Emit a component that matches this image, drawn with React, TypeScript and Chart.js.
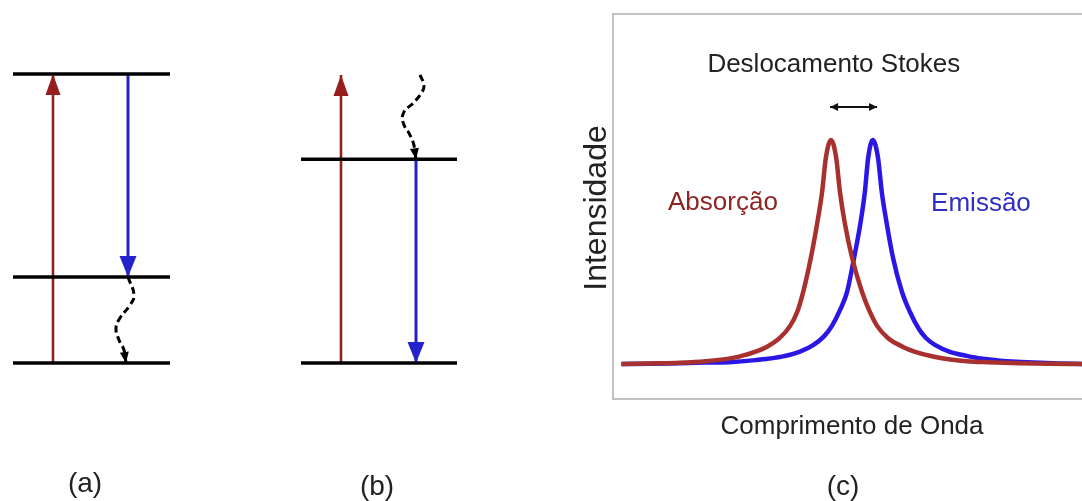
import { useEffect, useRef } from "react";
import { Chart, registerables } from "chart.js";

Chart.register(...registerables);

// ---------- Energy-level diagrams (a) and (b) ----------
// energies (arbitrary units) of the levels
const levelsA = [0, 1, 3.36];
const levelsB = [0, 2.37];
const excitationTopB = 3.35;
// non-radiative relaxation paths (schematic positions, energy)
const relaxAx = [12.8, 13.4, 13.0, 12.0, 11.6, 11.9, 12.4, 12.6];
const relaxAy = [1.0, 0.79, 0.674, 0.523, 0.407, 0.267, 0.151, 0.0];
const relaxBx = [42.0, 42.4, 42.2, 41.3, 40.4, 40.3, 41.0, 41.4, 41.6];
const relaxBy = [3.35, 3.23, 3.15, 3.02, 2.92, 2.8, 2.65, 2.53, 2.37];

// ---------- Spectrum (c) ----------
const absWavelength = [2, 8, 14.5, 20, 25.7, 28, 30.4, 33, 35.7, 37.9, 39.4, 40.6, 42.3, 43.6, 44.7, 45.5, 46.6, 47.7, 48.5, 49.6, 51.1, 53.2, 54.7, 56.4, 58.7, 61.9, 64.5, 68.3, 72, 75.5, 80, 86.8, 93, 100];
const absIntensity = [0, 0.002, 0.005, 0.012, 0.027, 0.038, 0.054, 0.077, 0.116, 0.17, 0.232, 0.315, 0.473, 0.621, 0.768, 0.92, 1.0, 0.92, 0.768, 0.621, 0.473, 0.321, 0.24, 0.17, 0.116, 0.076, 0.054, 0.033, 0.02, 0.012, 0.0075, 0.003, 0.001, 0];
const emWavelength = [2, 8, 14.5, 20, 25.7, 30.5, 36.4, 40.0, 42.8, 45.1, 46.8, 48.5, 50.0, 51.5, 52.8, 53.8, 54.5, 55.5, 56.6, 57.4, 58.5, 59.8, 61.7, 63.4, 65.3, 66.8, 68.7, 71.9, 75.5, 78.5, 82.6, 87, 91.1, 95, 100];
const emIntensity = [0, 0.001, 0.003, 0.006, 0.009, 0.017, 0.034, 0.055, 0.084, 0.123, 0.17, 0.24, 0.321, 0.473, 0.621, 0.768, 0.92, 1.0, 0.92, 0.768, 0.621, 0.473, 0.321, 0.232, 0.156, 0.116, 0.085, 0.054, 0.036, 0.024, 0.0146, 0.009, 0.005, 0.002, 0];
const stokesArrow = [46.4, 56.4];
const stokesArrowLevel = 1.147;

const FONT = "'Liberation Sans', Arial, Helvetica, sans-serif";
const RED = "#951d1d";
const BLUE = "#2323cc";

const arrowPlugin = {
  id: "arrowHeads",
  afterDatasetsDraw(chart: any) {
    const ctx = chart.ctx;
    chart.data.datasets.forEach((ds: any, i: number) => {
      const head = ds.arrowHead;
      if (!head) return;
      const pts = chart.getDatasetMeta(i).data;
      const draw = (tip: any, from: any) => {
        const ang = Math.atan2(tip.y - from.y, tip.x - from.x);
        ctx.save();
        ctx.translate(tip.x, tip.y);
        ctx.rotate(ang);
        ctx.beginPath();
        ctx.moveTo(0, 0);
        ctx.lineTo(-head.len, head.w / 2);
        ctx.lineTo(-head.len, -head.w / 2);
        ctx.closePath();
        ctx.fillStyle = head.color;
        ctx.fill();
        ctx.restore();
      };
      if (head.end) draw(pts[pts.length - 1], pts[pts.length - 2]);
      if (head.start) draw(pts[0], pts[1]);
    });
  },
};

const pairs = (xs: number[], ys: number[]) => xs.map((x, i) => ({ x, y: ys[i] }));

function levelLine(x0: number, x1: number, e: number) {
  return {
    data: [{ x: x0, y: e }, { x: x1, y: e }],
    borderColor: "#000",
    borderWidth: 3.5,
    pointRadius: 0,
    tension: 0,
  };
}

function transition(x: number, e0: number, e1: number, color: string, width: number, len: number, w: number) {
  return {
    data: [{ x, y: e0 }, { x, y: e1 }],
    borderColor: color,
    borderWidth: width,
    pointRadius: 0,
    tension: 0,
    arrowHead: { end: true, len, w, color },
  };
}

function wavy(xs: number[], ys: number[]) {
  return {
    data: pairs(xs, ys),
    borderColor: "#000",
    borderWidth: 3,
    borderDash: [7, 4],
    pointRadius: 0,
    tension: 0.45,
    arrowHead: { end: true, len: 11, w: 9, color: "#000" },
  };
}

function Diagrams() {
  const ref = useRef<HTMLCanvasElement>(null);
  useEffect(() => {
    const labelPlugin = {
      id: "diagLabels",
      afterDraw(chart: any) {
        const ctx = chart.ctx;
        ctx.save();
        ctx.fillStyle = "#222";
        ctx.font = `28px ${FONT}`;
        ctx.textAlign = "center";
        ctx.textBaseline = "middle";
        ctx.fillText("(a)", 85, 484);
        ctx.fillText("(b)", 377, 487);
        ctx.restore();
      },
    };
    const chart = new Chart(ref.current!, {
      type: "line",
      data: {
        datasets: [
          ...levelsA.map((e) => levelLine(1.3, 17.0, e)),
          ...levelsB.map((e) => levelLine(30.1, 45.7, e)),
          transition(5.3, levelsA[0], levelsA[2], RED, 2.6, 21, 15),
          transition(12.8, levelsA[2], levelsA[1], BLUE, 3, 21, 17),
          wavy(relaxAx, relaxAy),
          transition(34.1, levelsB[0], excitationTopB, RED, 2.6, 21, 15),
          transition(41.6, levelsB[1], levelsB[0], BLUE, 3, 21, 17),
          wavy(relaxBx, relaxBy),
        ] as any,
      },
      options: {
        animation: false,
        responsive: false,
        devicePixelRatio: 1,
        layout: { padding: 0 },
        plugins: { legend: { display: false }, tooltip: { enabled: false } },
        scales: {
          x: { type: "linear", min: 0, max: 58, display: false },
          y: { type: "linear", min: -1.605, max: 4.221, display: false },
        },
      },
      plugins: [arrowPlugin, labelPlugin],
    });
    return () => chart.destroy();
  }, []);
  return <canvas ref={ref} width={580} height={501} style={{ position: "absolute", left: 0, top: 0 }} />;
}

function Spectrum() {
  const ref = useRef<HTMLCanvasElement>(null);
  useEffect(() => {
    const decor = {
      id: "spectrumDecor",
      beforeDatasetsDraw(chart: any) {
        const { ctx, chartArea } = chart;
        ctx.save();
        ctx.strokeStyle = "#c2c2c2";
        ctx.lineWidth = 2;
        ctx.strokeRect(chartArea.left + 1, chartArea.top + 1, chartArea.right - chartArea.left + 10, chartArea.bottom - chartArea.top - 2);
        ctx.restore();
      },
      afterDraw(chart: any) {
        const { ctx, scales } = chart;
        const xs = scales.x;
        const ys = scales.y;
        ctx.save();
        ctx.textAlign = "center";
        ctx.textBaseline = "alphabetic";
        ctx.font = `26px ${FONT}`;
        ctx.fillStyle = "#222";
        ctx.fillText("Deslocamento Stokes", xs.getPixelForValue(47.2), ys.getPixelForValue(1.304));
        ctx.fillStyle = "#8e2424";
        ctx.fillText("Absorção", xs.getPixelForValue(23.6), ys.getPixelForValue(0.6875));
        ctx.fillStyle = "#2e2ec4";
        ctx.fillText("Emissão", xs.getPixelForValue(78.5), ys.getPixelForValue(0.683));
        ctx.fillStyle = "#222";
        ctx.fillText("Comprimento de Onda", 272, 434);
        ctx.font = `28px ${FONT}`;
        ctx.textBaseline = "middle";
        ctx.fillText("(c)", 263, 487);
        ctx.translate(17, 208);
        ctx.rotate(-Math.PI / 2);
        ctx.font = `32px ${FONT}`;
        ctx.fillText("Intensidade", 0, 0);
        ctx.restore();
      },
    };
    const chart = new Chart(ref.current!, {
      type: "line",
      data: {
        datasets: [
          {
            label: "Absorção",
            data: pairs(absWavelength, absIntensity),
            borderColor: "#a8302e",
            borderWidth: 4.5,
            pointRadius: 0,
            cubicInterpolationMode: "monotone",
          },
          {
            label: "Emissão",
            data: pairs(emWavelength, emIntensity),
            borderColor: "#2a17e6",
            borderWidth: 4.5,
            pointRadius: 0,
            cubicInterpolationMode: "monotone",
          },
          {
            label: "Stokes",
            data: stokesArrow.map((x) => ({ x, y: stokesArrowLevel })),
            borderColor: "#111",
            borderWidth: 2,
            pointRadius: 0,
            arrowHead: { start: true, end: true, len: 8, w: 8, color: "#111" },
          },
        ] as any,
      },
      options: {
        animation: false,
        responsive: false,
        devicePixelRatio: 1,
        layout: { padding: { left: 32, top: 13, right: 0, bottom: 101 } },
        plugins: { legend: { display: false }, tooltip: { enabled: false } },
        scales: {
          x: { type: "linear", min: 0, max: 100, display: false },
          y: { type: "linear", min: -0.161, max: 1.567, display: false },
        },
      },
      plugins: [arrowPlugin, decor],
    });
    return () => chart.destroy();
  }, []);
  return <canvas ref={ref} width={502} height={501} style={{ position: "absolute", left: 580, top: 0 }} />;
}

export default function App() {
  return (
    <div style={{ position: "fixed", left: 0, top: 0, width: 1082, height: 501, background: "#fff", overflow: "hidden" }}>
      <Diagrams />
      <Spectrum />
    </div>
  );
}
